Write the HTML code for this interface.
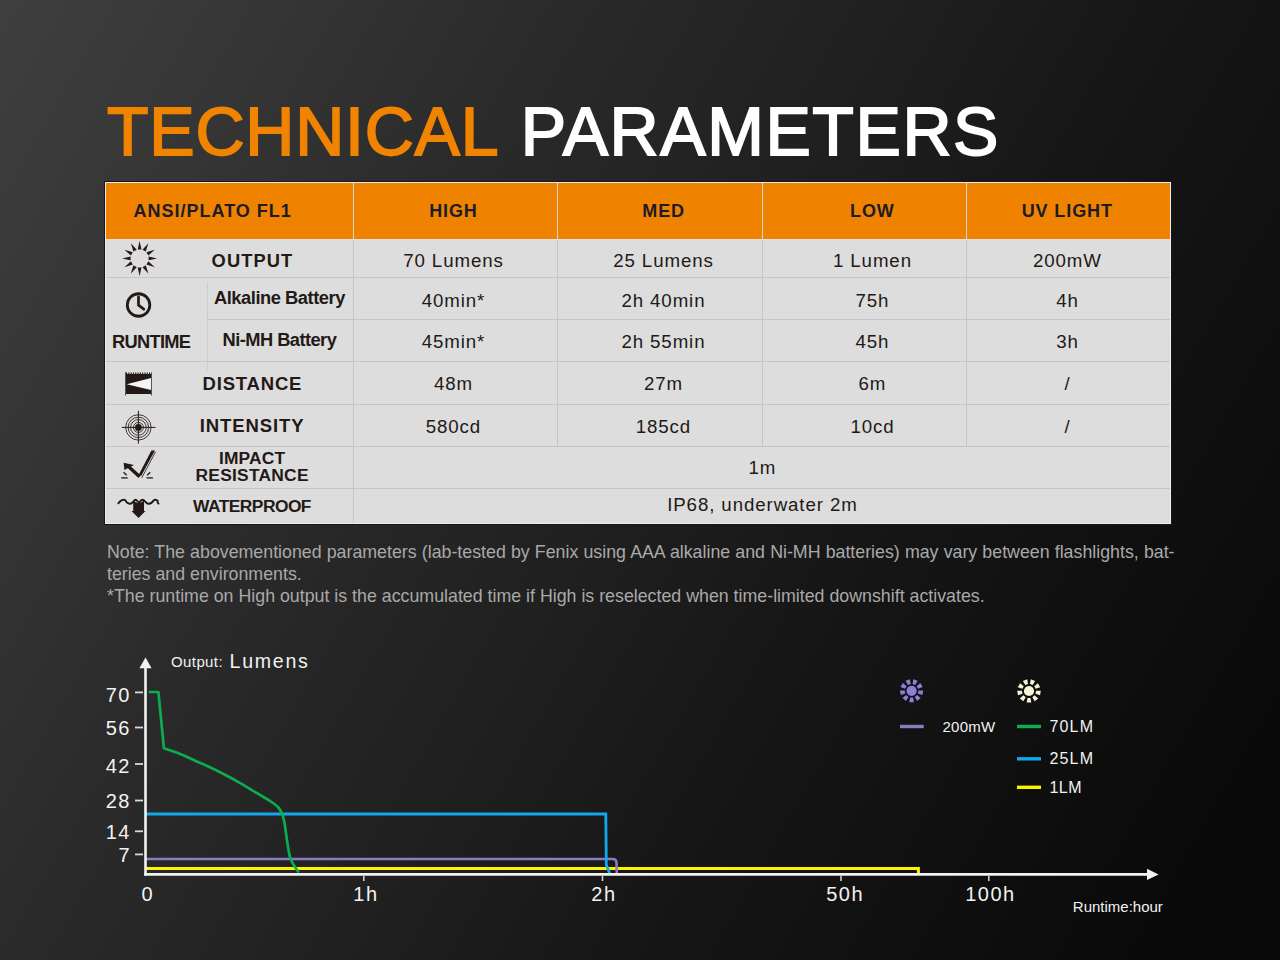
<!DOCTYPE html>
<html><head><meta charset="utf-8">
<style>
*{margin:0;padding:0;box-sizing:border-box}
html,body{width:1280px;height:960px;overflow:hidden}
body{position:relative;font-family:"Liberation Sans",sans-serif;
background:linear-gradient(120deg,#3f3f3f 0%,#343434 17%,#2a2a2a 31%,#1f1f1f 50%,#161616 64%,#0f0f0f 80%,#0a0a0a 92%,#090909 100%);}
.a{position:absolute;white-space:nowrap;line-height:1}
.title{font-size:68px;top:97.2px;-webkit-text-stroke:1.8px;}
.title.o{color:#f08300;-webkit-text-stroke-color:#f08300}
.title.w{color:#fefefe;-webkit-text-stroke-color:#fefefe}
.tb{position:absolute}
.hd{color:#231916;font-weight:bold;font-size:18px;letter-spacing:1px;text-align:center}
.cv{color:#231916;font-size:18.5px;letter-spacing:1px;text-align:center}
.lb{color:#231916;font-weight:bold;font-size:18px;text-align:center}
.note{color:#a9a9a9;font-size:17.8px;left:107px}
.ax{color:#f2f2f2;font-size:20px}
</style></head>
<body>
<div class="a title o" style="left:107px;letter-spacing:0.77px">TECHNICAL</div><div class="a title w" style="left:520.8px;letter-spacing:1.57px">PARAMETERS</div>

<!-- table -->
<div class="tb" style="left:104px;top:181px;width:1068px;height:344px;background:#15171c"></div>
<div class="tb" style="left:105px;top:182px;width:1066px;height:342px;background:#ececec"></div>
<div class="tb" style="left:106px;top:183px;width:1064px;height:56px;background:#ef8300"></div>
<div class="tb" style="left:106px;top:239px;width:1064px;height:1px;background:#dbe3e8"></div>
<div class="tb" style="left:106px;top:240px;width:1064px;height:283px;background:#dddddd"></div>
<!-- header dividers -->
<div class="tb" style="left:353px;top:183px;width:1px;height:56px;background:#dcd6d0"></div>
<div class="tb" style="left:557px;top:183px;width:1px;height:56px;background:#dcd6d0"></div>
<div class="tb" style="left:762px;top:183px;width:1px;height:56px;background:#dcd6d0"></div>
<div class="tb" style="left:966px;top:183px;width:1px;height:56px;background:#dcd6d0"></div>
<!-- body vertical lines -->
<div class="tb" style="left:353px;top:240px;width:1px;height:283px;background:#c6c6c6"></div>
<div class="tb" style="left:557px;top:240px;width:1px;height:207px;background:#c6c6c6"></div>
<div class="tb" style="left:762px;top:240px;width:1px;height:207px;background:#c6c6c6"></div>
<div class="tb" style="left:966px;top:240px;width:1px;height:207px;background:#c6c6c6"></div>
<div class="tb" style="left:207px;top:282px;width:1px;height:88px;background:#cdcdcd"></div>
<!-- body horizontal lines -->
<div class="tb" style="left:106px;top:277px;width:1064px;height:1px;background:#c6c6c6"></div>
<div class="tb" style="left:207px;top:319px;width:963px;height:1px;background:#c6c6c6"></div>
<div class="tb" style="left:106px;top:361px;width:1064px;height:1px;background:#c6c6c6"></div>
<div class="tb" style="left:106px;top:404px;width:1064px;height:1px;background:#c6c6c6"></div>
<div class="tb" style="left:106px;top:446px;width:1064px;height:1px;background:#c6c6c6"></div>
<div class="tb" style="left:106px;top:488px;width:1064px;height:1px;background:#c6c6c6"></div>

<div class="a" style="left:-87.30px;width:600px;text-align:center;top:201.75px;font-size:18px;letter-spacing:1.0px;font-weight:bold;color:#1c1b26;">ANSI/PLATO FL1</div>
<div class="a" style="left:153.45px;width:600px;text-align:center;top:201.65px;font-size:18px;letter-spacing:0.9px;font-weight:bold;color:#1c1b26;">HIGH</div>
<div class="a" style="left:363.65px;width:600px;text-align:center;top:201.65px;font-size:18px;letter-spacing:0.9px;font-weight:bold;color:#1c1b26;">MED</div>
<div class="a" style="left:572.35px;width:600px;text-align:center;top:201.65px;font-size:18px;letter-spacing:0.9px;font-weight:bold;color:#1c1b26;">LOW</div>
<div class="a" style="left:767.25px;width:600px;text-align:center;top:201.65px;font-size:18px;letter-spacing:0.9px;font-weight:bold;color:#1c1b26;">UV LIGHT</div>
<div class="a" style="left:-47.55px;width:600px;text-align:center;top:251.51px;font-size:18.3px;letter-spacing:1.1px;font-weight:bold;color:#231916;">OUTPUT</div>
<div class="a" style="left:-20.53px;width:600px;text-align:center;top:289.41px;font-size:18.3px;letter-spacing:-0.45px;font-weight:bold;color:#231916;">Alkaline Battery</div>
<div class="a" style="left:-20.58px;width:600px;text-align:center;top:331.01px;font-size:18.3px;letter-spacing:-0.55px;font-weight:bold;color:#231916;">Ni-MH Battery</div>
<div class="a" style="left:-148.88px;width:600px;text-align:center;top:332.91px;font-size:18.3px;letter-spacing:-0.75px;font-weight:bold;color:#231916;">RUNTIME</div>
<div class="a" style="left:-47.60px;width:600px;text-align:center;top:374.59px;font-size:18.5px;letter-spacing:0.8px;font-weight:bold;color:#231916;">DISTANCE</div>
<div class="a" style="left:-47.85px;width:600px;text-align:center;top:416.79px;font-size:18.5px;letter-spacing:0.9px;font-weight:bold;color:#231916;">INTENSITY</div>
<div class="a" style="left:-47.92px;width:600px;text-align:center;top:450.23px;font-size:17.4px;letter-spacing:0.15px;font-weight:bold;color:#231916;">IMPACT</div>
<div class="a" style="left:-47.88px;width:600px;text-align:center;top:467.13px;font-size:17.4px;letter-spacing:0.25px;font-weight:bold;color:#231916;">RESISTANCE</div>
<div class="a" style="left:-47.97px;width:600px;text-align:center;top:498.13px;font-size:17.4px;letter-spacing:-0.55px;font-weight:bold;color:#231916;">WATERPROOF</div>
<div class="a" style="left:153.45px;width:600px;text-align:center;top:251.76px;font-size:18.7px;letter-spacing:0.9px;color:#231916;">70 Lumens</div>
<div class="a" style="left:363.45px;width:600px;text-align:center;top:251.76px;font-size:18.7px;letter-spacing:0.9px;color:#231916;">25 Lumens</div>
<div class="a" style="left:572.45px;width:600px;text-align:center;top:251.76px;font-size:18.7px;letter-spacing:0.9px;color:#231916;">1 Lumen</div>
<div class="a" style="left:767.45px;width:600px;text-align:center;top:251.76px;font-size:18.7px;letter-spacing:0.9px;color:#231916;">200mW</div>
<div class="a" style="left:153.45px;width:600px;text-align:center;top:292.06px;font-size:18.7px;letter-spacing:0.9px;color:#231916;">40min*</div>
<div class="a" style="left:363.45px;width:600px;text-align:center;top:292.06px;font-size:18.7px;letter-spacing:0.9px;color:#231916;">2h 40min</div>
<div class="a" style="left:572.45px;width:600px;text-align:center;top:292.06px;font-size:18.7px;letter-spacing:0.9px;color:#231916;">75h</div>
<div class="a" style="left:767.45px;width:600px;text-align:center;top:292.06px;font-size:18.7px;letter-spacing:0.9px;color:#231916;">4h</div>
<div class="a" style="left:153.45px;width:600px;text-align:center;top:333.46px;font-size:18.7px;letter-spacing:0.9px;color:#231916;">45min*</div>
<div class="a" style="left:363.45px;width:600px;text-align:center;top:333.46px;font-size:18.7px;letter-spacing:0.9px;color:#231916;">2h 55min</div>
<div class="a" style="left:572.45px;width:600px;text-align:center;top:333.46px;font-size:18.7px;letter-spacing:0.9px;color:#231916;">45h</div>
<div class="a" style="left:767.45px;width:600px;text-align:center;top:333.46px;font-size:18.7px;letter-spacing:0.9px;color:#231916;">3h</div>
<div class="a" style="left:153.45px;width:600px;text-align:center;top:375.46px;font-size:18.7px;letter-spacing:0.9px;color:#231916;">48m</div>
<div class="a" style="left:363.45px;width:600px;text-align:center;top:375.46px;font-size:18.7px;letter-spacing:0.9px;color:#231916;">27m</div>
<div class="a" style="left:572.45px;width:600px;text-align:center;top:375.46px;font-size:18.7px;letter-spacing:0.9px;color:#231916;">6m</div>
<div class="a" style="left:767.45px;width:600px;text-align:center;top:375.46px;font-size:18.7px;letter-spacing:0.9px;color:#231916;">/</div>
<div class="a" style="left:153.45px;width:600px;text-align:center;top:417.66px;font-size:18.7px;letter-spacing:0.9px;color:#231916;">580cd</div>
<div class="a" style="left:363.45px;width:600px;text-align:center;top:417.66px;font-size:18.7px;letter-spacing:0.9px;color:#231916;">185cd</div>
<div class="a" style="left:572.45px;width:600px;text-align:center;top:417.66px;font-size:18.7px;letter-spacing:0.9px;color:#231916;">10cd</div>
<div class="a" style="left:767.45px;width:600px;text-align:center;top:417.66px;font-size:18.7px;letter-spacing:0.9px;color:#231916;">/</div>
<div class="a" style="left:462.45px;width:600px;text-align:center;top:458.66px;font-size:18.7px;letter-spacing:0.9px;color:#231916;">1m</div>
<div class="a" style="left:462.45px;width:600px;text-align:center;top:496.46px;font-size:18.7px;letter-spacing:0.9px;color:#231916;">IP68, underwater 2m</div>

<!-- notes -->
<div class="a note" style="top:544.2px;word-spacing:0.2px">Note: The abovementioned parameters (lab-tested by Fenix using AAA alkaline and Ni-MH batteries) may vary between flashlights, bat-</div>
<div class="a note" style="top:566.4px">teries and environments.</div>
<div class="a note" style="top:588.2px">*The runtime on High output is the accumulated time if High is reselected when time-limited downshift activates.</div>

<svg class="ic" width="1280" height="960" viewBox="0 0 1280 960" style="position:absolute;left:0;top:0">
<path d="M141.50,249.40L139.60,240.90L137.70,249.40ZM145.75,251.56L148.35,243.24L142.45,249.66ZM148.34,255.55L154.76,249.65L146.44,252.25ZM148.60,260.30L157.10,258.40L148.60,256.50ZM146.44,264.55L154.76,267.15L148.34,261.25ZM142.45,267.14L148.35,273.56L145.75,265.24ZM137.70,267.40L139.60,275.90L141.50,267.40ZM133.45,265.24L130.85,273.56L136.75,267.14ZM130.86,261.25L124.44,267.15L132.76,264.55ZM130.60,256.50L122.10,258.40L130.60,260.30ZM132.76,252.25L124.44,249.65L130.86,255.55ZM136.75,249.66L130.85,243.24L133.45,251.56Z" fill="#231916"/>
<circle cx="138.55" cy="305" r="11.25" fill="none" stroke="#231916" stroke-width="2.8"/>
<path d="M138.5,296.8 L138.5,305.2 L143.8,309.2" fill="none" stroke="#231916" stroke-width="2.7" stroke-linecap="round" stroke-linejoin="round"/>
<rect x="125" y="374" width="27" height="20" fill="#231916"/>
<line x1="125.5" y1="372.3" x2="125.5" y2="395.5" stroke="#555" stroke-width="1"/>
<line x1="151.5" y1="372.3" x2="151.5" y2="395.5" stroke="#555" stroke-width="1"/>
<line x1="126" y1="373.2" x2="151" y2="373.2" stroke="#231916" stroke-width="1.6" stroke-dasharray="1.1 1.2"/>
<path d="M126.7,384.3 L151,378 L151,390 Z" fill="#f4f4f4"/>
<g fill="none" stroke="#231916">
<circle cx="138.4" cy="427.4" r="5.0" stroke-width="0.85"/>
<circle cx="138.4" cy="427.4" r="7.8" stroke-width="0.85"/>
<circle cx="138.4" cy="427.4" r="10.2" stroke-width="0.85"/>
<circle cx="138.4" cy="427.4" r="12.7" stroke-width="0.85"/>
<line x1="121.8" y1="427.4" x2="155.5" y2="427.4" stroke-width="1"/>
<line x1="138.4" y1="410.8" x2="138.4" y2="443.7" stroke-width="1"/>
</g>
<circle cx="138.4" cy="427.4" r="3.4" fill="#231916"/>
<path d="M151.4,450.6 L155.0,450.4 L141.0,476.2 L139.0,474.3 Z" fill="#231916"/>
<line x1="155.6" y1="451.8" x2="141.8" y2="477.8" stroke="#231916" stroke-width="0.8"/>
<line x1="139.6" y1="476.8" x2="128.2" y2="466.2" stroke="#231916" stroke-width="3.4"/>
<path d="M123.6,462.8 L134.0,465.0 L124.4,470.0 Z" fill="#231916"/>
<g stroke="#231916" stroke-width="1.3">
<line x1="121.2" y1="477.9" x2="127.7" y2="477.9"/>
<line x1="123.6" y1="472.2" x2="126.6" y2="475.2"/>
<line x1="146.5" y1="477.9" x2="152.9" y2="477.9"/>
<line x1="150.2" y1="472.2" x2="147.2" y2="475.2"/>
</g>
<path d="M118.3,503.3 C120.5,500.5 123.5,498.8 125.2,500.2 C126.5,502.8 128.5,504.3 131,503.5 C133,502.8 134.2,499.6 135.6,499.7 C137.0,499.9 137.8,502.2 138.8,502.4 C139.8,502.2 140.8,499.9 142.4,499.8 C144.5,499.8 145.5,502.8 147.5,503.5 C150.0,504.3 152,502.8 153.5,500.6 C155.5,498.8 158.5,500.5 157.6,501.8 C157.5,502.8 158.0,503.3 158.5,503.6" fill="none" stroke="#231916" stroke-width="1.9" stroke-linecap="round"/>
<path d="M133.2,500.6 Q138.6,505.2 144.0,500.6 L144.0,511.1 L145.5,511.1 L138.5,517.9 L131.4,511.1 L133.2,511.1 Z" fill="#231916"/>
</svg>
<svg width="1280" height="960" viewBox="0 0 1280 960" style="position:absolute;left:0;top:0">
<g stroke="#d9d9d9" stroke-width="1.8">
<line x1="135" y1="692.4" x2="143" y2="692.4"/><line x1="135" y1="727.5" x2="143" y2="727.5"/>
<line x1="135" y1="764" x2="143" y2="764"/><line x1="135" y1="800.5" x2="143" y2="800.5"/>
<line x1="135" y1="831.3" x2="143" y2="831.3"/><line x1="135" y1="854.4" x2="143" y2="854.4"/>
</g>
<g stroke="#d9d9d9" stroke-width="1.5">
<line x1="363.8" y1="876" x2="363.8" y2="881"/><line x1="602.5" y1="876" x2="602.5" y2="881"/>
<line x1="841" y1="876" x2="841" y2="881"/><line x1="988.8" y1="876" x2="988.8" y2="881"/>
</g>
<path d="M146,868.6 H918.4 V873" fill="none" stroke="#fff200" stroke-width="3"/>
<path d="M146,859 H612.8 Q616.4,859 616.5,862.6 L616.8,873.4" fill="none" stroke="#8a7cc4" stroke-width="2.6"/>
<path d="M146,814 H605.8 L606.3,864.7 L609.6,873.2" fill="none" stroke="#12a8ee" stroke-width="2.8"/>
<path d="M148.7,692 L158.4,692 L163.9,748.3 C166.62,749.23 174.97,751.83 180.20,753.90 C185.43,755.97 190.27,758.43 195.30,760.70 C200.33,762.97 205.37,765.12 210.40,767.50 C215.43,769.88 220.47,772.37 225.50,775.00 C230.53,777.63 235.57,780.40 240.60,783.30 C245.63,786.20 250.67,789.37 255.70,792.40 C260.73,795.43 267.02,798.98 270.80,801.50 C274.58,804.02 276.50,805.37 278.40,807.50 C280.30,809.63 281.20,811.78 282.20,814.30 C283.20,816.82 283.77,819.45 284.40,822.60 C285.03,825.75 285.48,829.67 286.00,833.20 C286.52,836.73 286.88,840.03 287.50,843.80 C288.12,847.57 288.83,852.53 289.70,855.80 C290.57,859.07 291.18,860.62 292.70,863.40 C294.22,866.18 297.78,870.98 298.80,872.50" fill="none" stroke="#0cad4e" stroke-width="2.7" stroke-linejoin="round"/>
<line x1="145.5" y1="667" x2="145.5" y2="875.6" stroke="#f2f2f2" stroke-width="2.6"/>
<path d="M145.5,657.4 L151.6,668.2 L139.4,668.2 Z" fill="#f2f2f2"/>
<line x1="144.2" y1="874.3" x2="1148" y2="874.3" stroke="#f2f2f2" stroke-width="2.8"/>
<path d="M1158.6,874.4 L1147,868.7 L1147,880.1 Z" fill="#f2f2f2"/>
<path d="M910.10,697.50 L909.30,702.20 L913.90,702.20 L913.10,697.50ZM906.14,694.97 L902.51,698.05 L906.03,701.01 L908.44,696.90ZM904.74,690.49 L899.97,690.51 L900.77,695.04 L905.26,693.44ZM906.55,686.15 L902.88,683.11 L900.58,687.09 L905.05,688.75ZM910.72,683.99 L909.86,679.30 L905.54,680.87 L907.90,685.02ZM915.30,685.02 L917.66,680.87 L913.34,679.30 L912.48,683.99ZM918.15,688.75 L922.62,687.09 L920.32,683.11 L916.65,686.15ZM917.94,693.44 L922.43,695.04 L923.23,690.51 L918.46,690.49ZM914.76,696.90 L917.17,701.01 L920.69,698.05 L917.06,694.97Z" fill="#8b80d4"/><circle cx="911.6" cy="690.8" r="5.1" fill="#8b80d4"/>
<path d="M1027.50,697.90 L1026.70,702.60 L1031.30,702.60 L1030.50,697.90ZM1023.42,695.32 L1019.78,698.41 L1023.31,701.36 L1025.71,697.25ZM1021.94,690.72 L1017.18,690.75 L1017.98,695.28 L1022.47,693.68ZM1023.77,686.25 L1020.10,683.21 L1017.80,687.19 L1022.27,688.85ZM1028.05,684.00 L1027.19,679.31 L1022.87,680.89 L1025.23,685.03ZM1032.77,685.03 L1035.13,680.89 L1030.81,679.31 L1029.95,684.00ZM1035.73,688.85 L1040.20,687.19 L1037.90,683.21 L1034.23,686.25ZM1035.53,693.68 L1040.02,695.28 L1040.82,690.75 L1036.06,690.72ZM1032.29,697.25 L1034.69,701.36 L1038.22,698.41 L1034.58,695.32Z" fill="#f5f3d8"/><circle cx="1029" cy="691" r="5.1" fill="#f5f3d8"/>
<g stroke-width="3.4">
<line x1="900" y1="726.5" x2="923.7" y2="726.5" stroke="#8a7cc4"/>
<line x1="1017" y1="726.5" x2="1041" y2="726.5" stroke="#0cad4e"/>
<line x1="1017" y1="758.8" x2="1041" y2="758.8" stroke="#12a8ee"/>
<line x1="1017" y1="787.3" x2="1041" y2="787.3" stroke="#fff200"/>
</g>
</svg>
<div class="a" style="left:171.00px;top:654.34px;font-size:15px;letter-spacing:0.4px;color:#f2f2f2;">Output:</div>
<div class="a" style="left:229.60px;top:652.34px;font-size:19.6px;letter-spacing:1.7px;color:#f2f2f2;">Lumens</div>
<div class="a" style="left:-169.00px;width:300px;text-align:right;top:685.19px;font-size:20px;letter-spacing:1.5px;color:#f2f2f2">70</div>
<div class="a" style="left:-169.00px;width:300px;text-align:right;top:717.89px;font-size:20px;letter-spacing:1.5px;color:#f2f2f2">56</div>
<div class="a" style="left:-169.00px;width:300px;text-align:right;top:755.99px;font-size:20px;letter-spacing:1.5px;color:#f2f2f2">42</div>
<div class="a" style="left:-169.00px;width:300px;text-align:right;top:790.99px;font-size:20px;letter-spacing:1.5px;color:#f2f2f2">28</div>
<div class="a" style="left:-169.00px;width:300px;text-align:right;top:822.09px;font-size:20px;letter-spacing:1.5px;color:#f2f2f2">14</div>
<div class="a" style="left:-169.00px;width:300px;text-align:right;top:845.19px;font-size:20px;letter-spacing:1.5px;color:#f2f2f2">7</div>
<div class="a" style="left:-152.25px;width:600px;text-align:center;top:884.19px;font-size:20px;letter-spacing:1.5px;color:#f2f2f2;">0</div>
<div class="a" style="left:65.95px;width:600px;text-align:center;top:884.19px;font-size:20px;letter-spacing:1.5px;color:#f2f2f2;">1h</div>
<div class="a" style="left:303.95px;width:600px;text-align:center;top:884.19px;font-size:20px;letter-spacing:1.5px;color:#f2f2f2;">2h</div>
<div class="a" style="left:545.15px;width:600px;text-align:center;top:884.19px;font-size:20px;letter-spacing:1.5px;color:#f2f2f2;">50h</div>
<div class="a" style="left:690.45px;width:600px;text-align:center;top:884.19px;font-size:20px;letter-spacing:1.5px;color:#f2f2f2;">100h</div>
<div class="a" style="left:1072.80px;top:899.04px;font-size:15px;letter-spacing:0px;color:#f2f2f2;">Runtime:hour</div>
<div class="a" style="left:942.40px;top:719.04px;font-size:15px;letter-spacing:0.3px;color:#f2f2f2;">200mW</div>
<div class="a" style="left:1049.40px;top:718.91px;font-size:16px;letter-spacing:1.2px;color:#f2f2f2;">70LM</div>
<div class="a" style="left:1049.40px;top:751.21px;font-size:16px;letter-spacing:1.2px;color:#f2f2f2;">25LM</div>
<div class="a" style="left:1049.40px;top:779.71px;font-size:16px;letter-spacing:0.5px;color:#f2f2f2;">1LM</div>

</body></html>
